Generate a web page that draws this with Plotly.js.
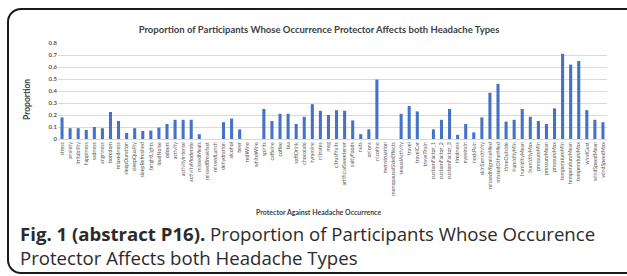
<!DOCTYPE html>
<html>
<head>
<meta charset="utf-8">
<script src="https://cdn.plot.ly/plotly-3.0.1.min.js"></script>
<style>
html,body{margin:0;padding:0;background:#fff;overflow:hidden;}
#frame{position:absolute;left:7px;top:8px;width:660px;height:262px;border:2px solid #1a1a1a;border-radius:14px;pointer-events:none;}
#chart{position:absolute;left:0;top:0;width:627px;height:276px;}
</style>
</head>
<body>
<div id="chart"></div>
<div id="frame"></div>
<script>
const categories = ["stress","anxiety","irritability","happiness","sadness","angriness","boredom","relaxedness","sleepDuration","sleepQuality","sleepRefreshed","brightLights","loudNoise","odours","activity","activityIntense","activityModerate","missedMeals","missedBreakfast","missedLunch","dehydration","alcohol","beer","redWine","whiteWine","spirits","caffeine","coffee","tea","softDrink","chocolate","tyramine","nitrates","msg","citrusFruits","artificialSweetener","saltyFoods","nuts","onions","nicotine","menstruation","menopausalSideEffects","sexualActivity","travel","travelCar","travelTrain","customFactor_1","customFactor_2","customFactor_3","tiredness","eyestrain","neckPain","skinSensitivity","missedMigraineMed","missedOtherMed","timeOutside","humidityMin","humidityMean","humidityMax","pressureMin","pressureMean","pressureMax","temperatureMin","temperatureMean","temperatureMax","windGust","windSpeedMean","windSpeedMax"];
const proportion = [0.18,0.09,0.09,0.075,0.10,0.09,0.225,0.15,0.05,0.09,0.067,0.07,0.095,0.125,0.16,0.16,0.16,0.04,0,0,0.14,0.17,0.08,0,0,0.25,0.15,0.21,0.21,0.125,0.185,0.29,0.235,0.20,0.24,0.235,0.155,0.04,0.08,0.495,0,0,0.21,0.275,0.23,0,0.08,0.16,0.25,0.035,0.125,0.055,0.18,0.385,0.46,0.145,0.16,0.25,0.185,0.15,0.125,0.255,0.71,0.62,0.65,0.24,0.16,0.14];
const yTicks = [0,0.1,0.2,0.3,0.4,0.5,0.6,0.7,0.8];
const yTickText = ["0","0.1","0.2","0.3","0.4","0.5","0.6","0.7","0.8"];

const L = 58, R = 20, T = 43, B = 137, W = 627, H = 276;
const pw = W - L - R, ph = H - T - B;
function px(x){return (x - L)/pw;}
function py(y){return (H - B - y)/ph;}

const trace = {
  type: 'bar', x: categories, y: proportion,
  marker: {color: '#4472C4'}, hoverinfo: 'x+y'
};
const layout = {
  width: W, height: H,
  margin: {l: L, r: R, t: T, b: B, pad: 0},
  paper_bgcolor: 'rgba(0,0,0,0)', plot_bgcolor: 'rgba(0,0,0,0)',
  bargap: 0.62, showlegend: false,
  font: {family: 'Lato, "Liberation Sans", sans-serif', color: '#595959'},
  title: {text: '<b>Proportion of Participants Whose Occurrence Protector Affects both Headache Types</b>',
    font: {size: 9.5, color: '#404040', family: 'Lato, sans-serif'},
    x: px(319), xanchor: 'center', xref: 'paper', y: 1 - 30/H, yref: 'container', yanchor: 'middle'},
  xaxis: {type: 'category', tickangle: -90, tickfont: {size: 5.3, color: '#595959'},
    showgrid: false, showline: true, linecolor: '#d9d9d9', linewidth: 1, ticks: '', automargin: false},
  yaxis: {range: [0, 0.8], tickvals: yTicks, ticktext: yTickText,
    tickfont: {size: 6, color: '#595959', family: 'Lato, sans-serif', weight: 'bold'},
    showgrid: true, gridcolor: '#d9d9d9', gridwidth: 1, zeroline: false, showline: false, ticks: '', automargin: false},
  annotations: [
    {text: '<b>Proportion</b>', xref: 'paper', yref: 'paper', x: px(27), y: py(100),
     xanchor: 'center', yanchor: 'middle', textangle: -90, showarrow: false,
     font: {size: 8.5, color: '#404040', family: 'Lato, sans-serif'}},
    {text: '<b>Protector Against Headache Occurrence</b>', xref: 'paper', yref: 'paper',
     x: px(318), y: py(212), xanchor: 'center', yanchor: 'middle', showarrow: false,
     font: {size: 7, color: '#404040', family: 'Lato, sans-serif'}},
    {text: '<b>Fig. 1 (abstract P16).</b> Proportion of Participants Whose Occurence<br>Protector Affects both Headache Types',
     xref: 'paper', yref: 'paper', x: px(18), y: py(219), xanchor: 'left', yanchor: 'top', align: 'left',
     showarrow: false, font: {size: 18.6, color: '#2b2b2b', family: '"Open Sans", sans-serif'}}
  ]
};
Plotly.newPlot('chart', [trace], layout, {displayModeBar: false, staticPlot: true});
</script>
</body>
</html>
